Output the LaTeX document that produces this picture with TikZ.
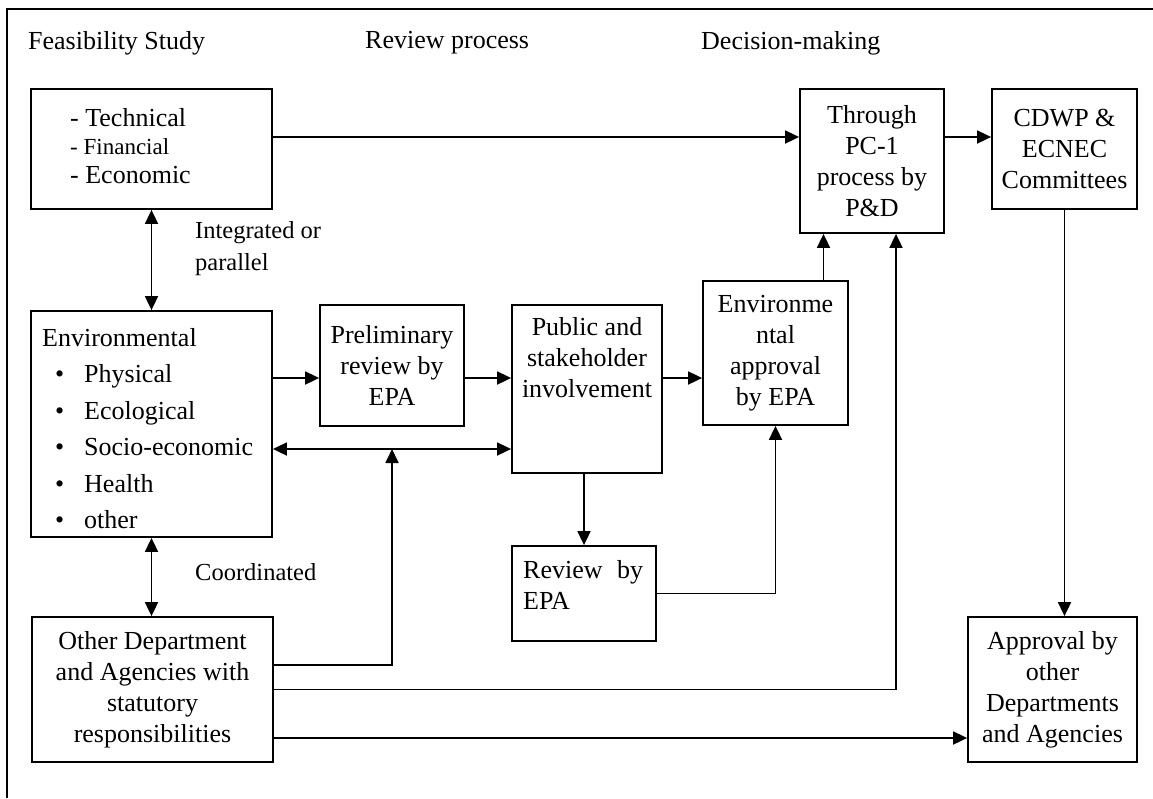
\documentclass[tikz,border=0pt]{standalone}
\usepackage{fontspec}
\setmainfont{Liberation Serif}
\usetikzlibrary{positioning, arrows.meta}

\begin{document}
\begin{tikzpicture}[x=1pt, y=-1pt,
  every node/.style={font=\fontsize{26}{31}\selectfont, inner sep=0pt},
  box/.style={draw, line width=1.8pt, align=center},
  arr/.style={line width=1.8pt, -{Triangle[length=14pt,width=13pt]}},
  darr/.style={line width=1.8pt, {Triangle[length=14pt,width=13pt]}-{Triangle[length=14pt,width=13pt]}}]
  \useasboundingbox (0,0) rectangle (1153,798);

  %frame
  \draw[line width=1.5pt] (7,798) -- (7,9) -- (1153,9);

  %headings
  \node[anchor=west] (hfeas) at (28,43) {Feasibility Study};
  \node[anchor=west] (hrev) at (365,43) {Review process};
  \node[anchor=west] (hdec) at (701,43) {Decision-making};

  %boxes
  \node[box, minimum width=241, minimum height=120] (tech) at (151.5,149) {};
  \node[anchor=base west] (tech1) at (70,126) {- Technical};
  \node[anchor=base west, font=\fontsize{23}{29}\selectfont] (tech2) at (70,154) {- Financial};
  \node[anchor=base west] (tech3) at (70,183) {- Economic};
  \node[box, minimum width=144, minimum height=144] (pc) at (872,161)
    {Through\\PC-1\\process by\\P\&D};
  \node[box, minimum width=145, minimum height=120] (cdwp) at (1064.5,149)
    {CDWP \&\\ECNEC\\Committees};
  \node[box, minimum width=241, minimum height=226] (env) at (151.5,424) {};
  \node[anchor=base west] (envtxt) at (42,346) {Environmental};
  \foreach \item [count=\i] in {Physical,Ecological,Socio-economic,Health,other}{
    \node[anchor=base west] (envdot\i) at (55,{346+36.5*\i}) {\textbullet};
    \node[anchor=base west] (envitem\i) at (84,{346+36.5*\i}) {\item};
  }
  \node[box, minimum width=144, minimum height=121] (prelim) at (392,365.5)
    {Preliminary\\review by\\EPA};
  \node[box, minimum width=150, minimum height=168] (public) at (587,389) {};
  \node[anchor=north, align=center] (pubtxt) at ([yshift=-13pt]public.north)
    {Public and\\stakeholder\\involvement};
  \node[box, minimum width=145, minimum height=144] (envapp) at (775.5,353)
    {Environme\\ntal\\approval\\by EPA};
  \node[box, minimum width=144, minimum height=95] (review) at (584,593.5) {};
  \node[anchor=north west, align=left, text width=120] (revtxt) at (523,560)
    {Review\hfill by\\EPA};
  \node[box, minimum width=241, minimum height=145] (other) at (152.5,689.5)
    {Other Department\\and Agencies with\\statutory\\responsibilities};
  \node[box, minimum width=169, minimum height=145] (approval) at (1052.5,689.5)
    {Approval by\\other\\Departments\\and Agencies};

  %labels
  \node[anchor=west, align=left, font=\fontsize{24.5}{32}\selectfont] (integ) at (195,249)
    {Integrated or\\parallel};
  \node[anchor=west, font=\fontsize{24.5}{32}\selectfont] (coord) at (195,572) {Coordinated};

  %rows
  \coordinate (rowA) at (0,137);
  \coordinate (rowB) at (0,378);
  \coordinate (rowC) at (0,449);
  \coordinate (rowD) at (0,665);
  \coordinate (rowE) at (0,738);
  \coordinate (colA) at (392,0);

  % connectors
  \draw[arr] (tech.east |- rowA) -- (pc.west |- rowA);
  \draw[arr] (pc.east |- rowA) -- (cdwp.west |- rowA);
  \draw[darr] (tech.south) -- (env.north);
  \draw[darr] (env.south) -- (env.south |- other.north);
  \draw[arr] (env.east |- rowB) -- (prelim.west |- rowB);
  \draw[arr] (prelim.east |- rowB) -- (public.west |- rowB);
  \draw[arr] (public.east |- rowB) -- (envapp.west |- rowB);
  \draw[darr] (env.east |- rowC) -- (public.west |- rowC);
  \draw[arr] (other.east |- rowD) -| (colA |- rowC);
  \draw[arr] (review.north |- public.south) -- (review.north);
  \draw[arr] (review.east) -| (envapp.south);
  \draw[arr] ([xshift=48pt]envapp.north) -- ([xshift=48pt]envapp.north |- pc.south);
  \draw[arr] (other.east) -| ([xshift=24pt]pc.south);
  \draw[arr] (other.east |- rowE) -- (approval.west |- rowE);
  \draw[arr] (cdwp.south) -- (cdwp.south |- approval.north);
\end{tikzpicture}
\end{document}
